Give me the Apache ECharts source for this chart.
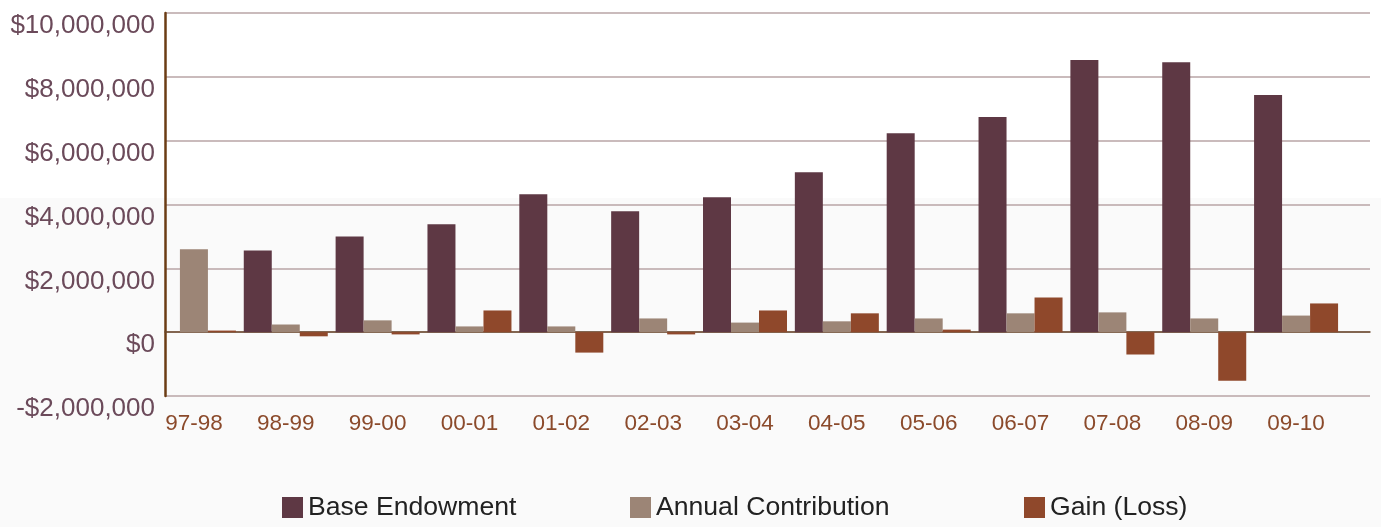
<!DOCTYPE html>
<html>
<head>
<meta charset="utf-8">
<script src="https://cdn.jsdelivr.net/npm/echarts@6/dist/echarts.min.js"></script>
<style>
html,body{margin:0;padding:0;background:#ffffff;}
#chart{width:1381px;height:527px;}
</style>
</head>
<body>
<div id="chart"></div>
<script>
var categories = ['97-98','98-99','99-00','00-01','01-02','02-03','03-04','04-05','05-06','06-07','07-08','08-09','09-10'];
var baseEndowment = [0, 2560000, 3000000, 3380000, 4320000, 3790000, 4230000, 5010000, 6230000, 6740000, 8530000, 8460000, 7430000];
var annualContribution = [2600000, 240000, 370000, 180000, 180000, 430000, 300000, 340000, 430000, 590000, 620000, 430000, 520000];
var gainLoss = [50000, -130000, -70000, 680000, -640000, -70000, 680000, 590000, 80000, 1090000, -700000, -1520000, 900000];
var yTicks = {min: -2000000, max: 10000000, interval: 2000000};

var chart = echarts.init(document.getElementById('chart'));
function fmt(v){
  return (v < 0 ? '-' : '') + '$' + Math.abs(v).toLocaleString('en-US');
}
var legendCommon = {
  orient: 'horizontal', itemWidth: 21, itemHeight: 21, padding: 0, icon: 'rect',
  textStyle: {fontFamily: 'Liberation Sans', fontSize: 26.6, color: '#222222', lineHeight: 21},
  selectedMode: false
};
chart.setOption({
  animation: false,
  backgroundColor: '#ffffff',
  graphic: {
    elements: [{
      type: 'rect', z: -100, silent: true,
      shape: {x: 0, y: 198, width: 1381, height: 329},
      style: {fill: '#fafafa'}
    }]
  },
  grid: [
    {left: 165, right: 11, top: 13, bottom: 131},
    {left: 148, right: 39, top: 13, bottom: 131}
  ],
  legend: [
    Object.assign({data: ['Base Endowment'], left: 282, top: 494}, legendCommon),
    Object.assign({data: ['Annual Contribution'], left: 630, top: 494}, legendCommon),
    Object.assign({data: ['Gain (Loss)'], left: 1024, top: 494}, legendCommon)
  ],
  xAxis: [
    {
      type: 'value', gridIndex: 0, min: 0, max: 1,
      axisLine: {show: true, onZero: true, lineStyle: {color: '#6b4a2e', width: 1.5}},
      axisTick: {show: false}, axisLabel: {show: false}, splitLine: {show: false}
    },
    {
      type: 'category', gridIndex: 1, data: categories, position: 'bottom',
      axisLine: {show: false, onZero: false}, axisTick: {show: false},
      axisLabel: {color: '#8b4a2b', fontFamily: 'Liberation Sans', fontSize: 22.5, margin: 16},
      splitLine: {show: false}
    }
  ],
  yAxis: [
    {
      type: 'value', gridIndex: 0, min: yTicks.min, max: yTicks.max, interval: yTicks.interval,
      axisLine: {show: true, lineStyle: {color: '#6b3c14', width: 2.5}},
      axisTick: {show: false},
      axisLabel: {
        formatter: fmt, color: '#6b4a5a', fontFamily: 'Liberation Sans', fontSize: 26,
        margin: 10, verticalAlign: 'top'
      },
      splitLine: {show: true, lineStyle: {color: '#b9a5a6', width: 1.5}}
    },
    {
      type: 'value', gridIndex: 1, min: yTicks.min, max: yTicks.max, interval: yTicks.interval,
      show: false, splitLine: {show: false}
    }
  ],
  series: [
    {name: 'Base Endowment', type: 'bar', xAxisIndex: 1, yAxisIndex: 1, data: baseEndowment,
     barWidth: 28, barGap: '0%', itemStyle: {color: '#5e3844'}},
    {name: 'Annual Contribution', type: 'bar', xAxisIndex: 1, yAxisIndex: 1, data: annualContribution,
     barWidth: 28, barGap: '0%', itemStyle: {color: '#9c8576'}},
    {name: 'Gain (Loss)', type: 'bar', xAxisIndex: 1, yAxisIndex: 1, data: gainLoss,
     barWidth: 28, barGap: '0%', itemStyle: {color: '#8f482b'}}
  ]
});
</script>
</body>
</html>
